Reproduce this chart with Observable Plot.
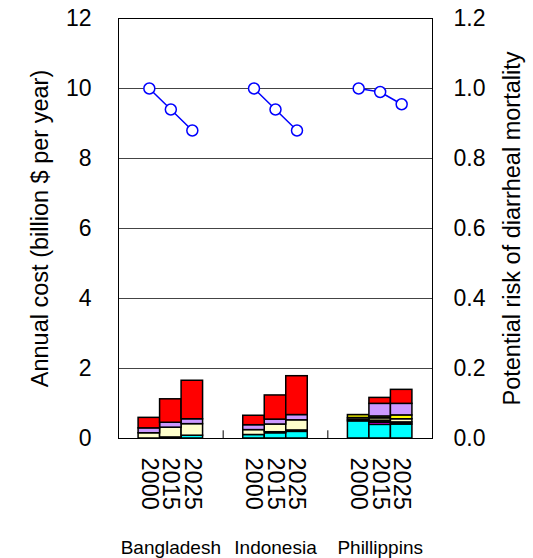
<!DOCTYPE html>
<html><head><meta charset="utf-8">
<script src="https://cdn.jsdelivr.net/npm/d3@7"></script>
<script src="https://cdn.jsdelivr.net/npm/@observablehq/plot@0.6"></script>
<style>body{margin:0;background:#fff} svg{display:block}</style>
</head><body><div id="chart"></div>
<script>
const countries = ["Bangladesh", "Indonesia", "Phillippins"];
const years = ["2000", "2015", "2025"];
// stacking order, bottom to top
const seriesNames = ["s1", "s2", "s3", "s4", "s5", "s6", "s7", "s8", "s9"];
const seriesColors = ["#00FFFF", "#FF00FF", "#111111", "#999966", "#FFFFCC", "#CCCC00", "#FFFF00", "#CC99FF", "#FF0000"];
// values per bar: B2000,B2015,B2025, I2000,I2015,I2025, P2000,P2015,P2025 (billion $ per year)
const s1Values = [0, 0, 0.08, 0.10, 0.15, 0.19, 0.49, 0.39, 0.40];
const s2Values = [0, 0, 0, 0, 0, 0, 0, 0.06, 0];
const s3Values = [0, 0.03, 0, 0, 0.03, 0.04, 0.04, 0.05, 0.06];
const s4Values = [0, 0, 0, 0, 0, 0, 0, 0.08, 0];
const s5Values = [0.15, 0.28, 0.33, 0.14, 0.22, 0.29, 0.05, 0, 0.09];
const s6Values = [0, 0, 0, 0, 0, 0, 0.09, 0, 0];
const s7Values = [0, 0, 0, 0, 0, 0, 0, 0.05, 0.11];
const s8Values = [0.14, 0.14, 0.14, 0.14, 0.14, 0.15, 0, 0.36, 0.33];
const s9Values = [0.30, 0.67, 1.10, 0.27, 0.69, 1.11, 0, 0.17, 0.40];
// potential risk of diarrheal mortality (right axis)
const riskValues = [1.0, 0.94, 0.88, 1.0, 0.94, 0.88, 1.0, 0.99, 0.955];
const costTicks = [0, 2, 4, 6, 8, 10, 12];
const riskTickLabels = ["0.0", "0.2", "0.4", "0.6", "0.8", "1.0", "1.2"];
const leftTitle = "Annual cost (billion $ per year)";
const rightTitle = "Potential risk of diarrheal mortality";

const seriesValues = [s1Values, s2Values, s3Values, s4Values, s5Values, s6Values, s7Values, s8Values, s9Values];
const RISK_TO_COST = 12 / 1.2;
const BW = 0.2054; // bar width in country-band units
const xc = (ci, yi) => ci + 0.5 + (yi - 1) * BW;

const barRows = [];
seriesNames.forEach((s, si) => {
  seriesValues[si].forEach((v, k) => {
    if (v > 0) barRows.push({series: s, ci: Math.floor(k / 3), yi: k % 3, value: v});
  });
});
const cells = [];
countries.forEach((c, ci) => years.forEach((y, yi) => cells.push({country: c, year: y, ci, yi, risk: riskValues[ci * 3 + yi]})));

const plot = Plot.plot({
  width: 533, height: 558,
  marginLeft: 118, marginRight: 101, marginTop: 18, marginBottom: 120,
  style: {fontFamily: "'Liberation Sans', Arial, sans-serif", fontSize: "23px", background: "#fff", color: "#000"},
  x: {domain: [0, 3], axis: null},
  y: {domain: [0, 12], axis: null},
  color: {domain: seriesNames, range: seriesColors},
  marks: [
    Plot.ruleY([2, 4, 6, 8, 10], {stroke: "#444", strokeWidth: 1}),
    Plot.rectY(barRows, Plot.stackY({
      x1: d => xc(d.ci, d.yi) - BW / 2,
      x2: d => xc(d.ci, d.yi) + BW / 2,
      y: "value", fill: "series", stroke: "#000", strokeWidth: 1.5
    })),
    Plot.line(cells, {x: d => xc(d.ci, d.yi), y: d => d.risk * RISK_TO_COST, z: "country", stroke: "#0000FF", strokeWidth: 1.5}),
    Plot.dot(cells, {x: d => xc(d.ci, d.yi), y: d => d.risk * RISK_TO_COST, r: 5.5, stroke: "#0000FF", fill: "#fff", strokeWidth: 1.5}),
    Plot.frame({stroke: "#000", strokeWidth: 1}),
    Plot.ruleX([1, 2], {y1: 0, y2: 0.22, stroke: "#000"}),
    Plot.axisY({anchor: "left", ticks: costTicks, tickSize: 0, tickPadding: 27, fontSize: 23, label: null}),
    Plot.axisY({anchor: "right", ticks: costTicks, tickSize: 0, tickPadding: 21, fontSize: 23, label: null,
      tickFormat: d => riskTickLabels[costTicks.indexOf(d)]}),
    Plot.text([leftTitle], {frameAnchor: "left", rotate: -90, dx: -78, fontSize: 23.5, textAnchor: "middle", lineAnchor: "middle", text: d => d}),
    Plot.text([rightTitle], {frameAnchor: "right", rotate: -90, dx: 80, fontSize: 23.5, textAnchor: "middle", lineAnchor: "middle", text: d => d}),
    Plot.text(cells, {x: d => xc(d.ci, d.yi), y: () => 0, text: "year", rotate: 90, textAnchor: "start", lineAnchor: "middle", dy: 19, fontSize: 23.5}),
    Plot.text(countries, {x: (d, i) => i + 0.5, y: () => 0, text: d => d, dy: 109, fontSize: 19})
  ]
});
document.getElementById("chart").append(plot);
</script>
</body></html>
